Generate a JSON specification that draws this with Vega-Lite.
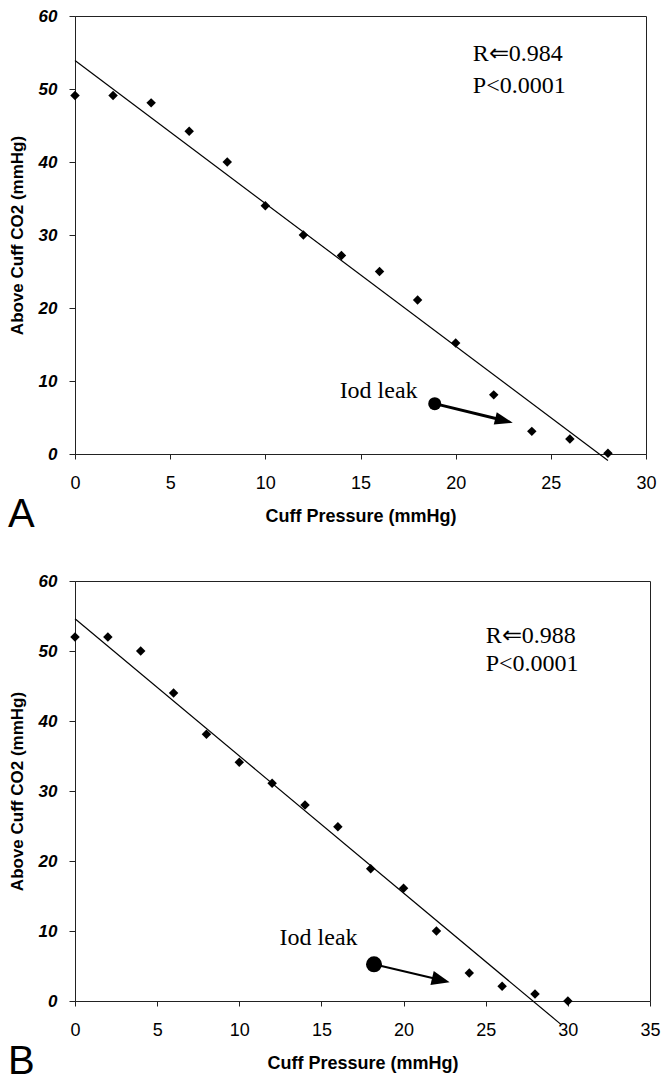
{
  "$schema": "https://vega.github.io/schema/vega-lite/v6.json",
  "background": "white",
  "padding": {"left": 7, "top": 6, "right": 5, "bottom": 0},
  "spacing": 35,
  "config": {
    "font": "Liberation Sans",
    "view": {"stroke": "#222", "strokeWidth": 1},
    "axis": {"grid": false, "domainColor": "#222", "tickColor": "#222", "labelColor": "#000", "titleColor": "#000", "titleFont": "Liberation Sans", "titleFontWeight": "bold", "titleFontSize": 17, "labelFont": "Liberation Sans"},
    "axisX": {"labelFontSize": 18, "labelPadding": 15, "tickSize": 5, "titlePadding": 15, "titleFontSize": 18, "labelFlush": false, "labelOverlap": false},
    "axisY": {"labelFontSize": 17, "labelFontWeight": "bold", "labelFontStyle": "italic", "labelPadding": 12, "tickSize": 6, "titlePadding": 12},
    "title": {"font": "Liberation Sans", "fontSize": 40, "fontWeight": "normal", "color": "#000", "orient": "bottom", "anchor": "start", "frame": "bounds", "offset": -30}
  },
  "datasets": {
    "ptsA": [
      {"x": 0, "y": 49.1}, {"x": 2, "y": 49.1}, {"x": 4, "y": 48.1}, {"x": 6, "y": 44.2}, {"x": 8, "y": 40},
      {"x": 10, "y": 34}, {"x": 12, "y": 30}, {"x": 14, "y": 27.2}, {"x": 16, "y": 25}, {"x": 18, "y": 21.1},
      {"x": 20, "y": 15.2}, {"x": 22, "y": 8.1}, {"x": 24, "y": 3.1}, {"x": 26, "y": 2.05}, {"x": 28, "y": 0.1}
    ],
    "fitA": [{"x": 0, "y": 53.9}, {"x": 28, "y": -0.9}],
    "leakA": [{"x": 18.9, "y": 6.9, "x2": 22.54, "y2": 4.58}],
    "headA": [{"x": 22.54, "y": 4.58}],
    "labelA": [{"x": 18.0, "y": 7.67, "text": "Iod leak"}],
    "statsA": [{"x": 20.9, "y": 53.9, "text": "R⇐0.984"}, {"x": 20.9, "y": 49.4, "text": "P<0.0001"}],
    "ptsB": [
      {"x": 0, "y": 52}, {"x": 2, "y": 52}, {"x": 4, "y": 50}, {"x": 6, "y": 44}, {"x": 8, "y": 38.1},
      {"x": 10, "y": 34.1}, {"x": 12, "y": 31.1}, {"x": 14, "y": 28}, {"x": 16, "y": 24.9}, {"x": 18, "y": 18.9},
      {"x": 20, "y": 16.1}, {"x": 22, "y": 10}, {"x": 24, "y": 4}, {"x": 26, "y": 2.1}, {"x": 28, "y": 1}, {"x": 30, "y": 0}
    ],
    "fitB": [{"x": 0, "y": 54.6}, {"x": 29.56, "y": -3.3}],
    "leakB": [{"x": 18.2, "y": 5.24, "x2": 22.27, "y2": 2.99}],
    "headB": [{"x": 22.27, "y": 2.99}],
    "labelB": [{"x": 17.2, "y": 7.96, "text": "Iod leak"}],
    "statsB": [{"x": 25.0, "y": 51.1, "text": "R⇐0.988"}, {"x": 25.0, "y": 47.1, "text": "P<0.0001"}]
  },
  "vconcat": [
    {
      "width": 571,
      "height": 438,
      "title": {"text": "A"},
      "encoding": {
        "x": {"field": "x", "type": "quantitative", "scale": {"domain": [0, 30], "nice": false, "zero": false},
              "axis": {"title": "Cuff Pressure (mmHg)", "values": [0, 5, 10, 15, 20, 25, 30]}},
        "y": {"field": "y", "type": "quantitative", "scale": {"domain": [0, 60], "nice": false, "zero": false},
              "axis": {"title": "Above Cuff CO2 (mmHg)", "values": [0, 10, 20, 30, 40, 50, 60]}}
      },
      "layer": [
        {"data": {"name": "fitA"}, "mark": {"type": "line", "color": "#000", "strokeWidth": 1.2, "clip": false}},
        {"data": {"name": "ptsA"}, "mark": {"type": "point", "shape": "diamond", "filled": true, "color": "#000", "opacity": 1, "size": 90}},
        {"data": {"name": "leakA"}, "mark": {"type": "rule", "color": "#000", "strokeWidth": 3},
         "encoding": {"x2": {"field": "x2"}, "y2": {"field": "y2"}}},
        {"data": {"name": "leakA"}, "mark": {"type": "point", "shape": "circle", "filled": true, "color": "#000", "opacity": 1, "size": 169}},
        {"data": {"name": "headA"}, "mark": {"type": "point", "shape": "M-1,-0.7L1,0L-1,0.7Z", "angle": 13.7, "filled": true, "color": "#000", "opacity": 1, "size": 324}},
        {"data": {"name": "labelA"}, "mark": {"type": "text", "align": "right", "baseline": "alphabetic", "font": "Liberation Serif", "fontSize": 24, "color": "#000"},
         "encoding": {"text": {"field": "text"}}},
        {"data": {"name": "statsA"}, "mark": {"type": "text", "align": "left", "baseline": "alphabetic", "font": "Liberation Serif", "fontSize": 24, "color": "#000"},
         "encoding": {"text": {"field": "text"}}}
      ]
    },
    {
      "width": 575,
      "height": 420,
      "title": {"text": "B"},
      "encoding": {
        "x": {"field": "x", "type": "quantitative", "scale": {"domain": [0, 35], "nice": false, "zero": false},
              "axis": {"title": "Cuff Pressure (mmHg)", "values": [0, 5, 10, 15, 20, 25, 30, 35]}},
        "y": {"field": "y", "type": "quantitative", "scale": {"domain": [0, 60], "nice": false, "zero": false},
              "axis": {"title": "Above Cuff CO2  (mmHg)", "values": [0, 10, 20, 30, 40, 50, 60]}}
      },
      "layer": [
        {"data": {"name": "fitB"}, "mark": {"type": "line", "color": "#000", "strokeWidth": 1.2, "clip": false}},
        {"data": {"name": "ptsB"}, "mark": {"type": "point", "shape": "diamond", "filled": true, "color": "#000", "opacity": 1, "size": 90}},
        {"data": {"name": "leakB"}, "mark": {"type": "rule", "color": "#000", "strokeWidth": 2},
         "encoding": {"x2": {"field": "x2"}, "y2": {"field": "y2"}}},
        {"data": {"name": "leakB"}, "mark": {"type": "point", "shape": "circle", "filled": true, "color": "#000", "opacity": 1, "size": 256}},
        {"data": {"name": "headB"}, "mark": {"type": "point", "shape": "M-1,-0.8L1,0L-1,0.8Z", "angle": 13.2, "filled": true, "color": "#000", "opacity": 1, "size": 324}},
        {"data": {"name": "labelB"}, "mark": {"type": "text", "align": "right", "baseline": "alphabetic", "font": "Liberation Serif", "fontSize": 24, "color": "#000"},
         "encoding": {"text": {"field": "text"}}},
        {"data": {"name": "statsB"}, "mark": {"type": "text", "align": "left", "baseline": "alphabetic", "font": "Liberation Serif", "fontSize": 24, "color": "#000"},
         "encoding": {"text": {"field": "text"}}}
      ]
    }
  ]
}
